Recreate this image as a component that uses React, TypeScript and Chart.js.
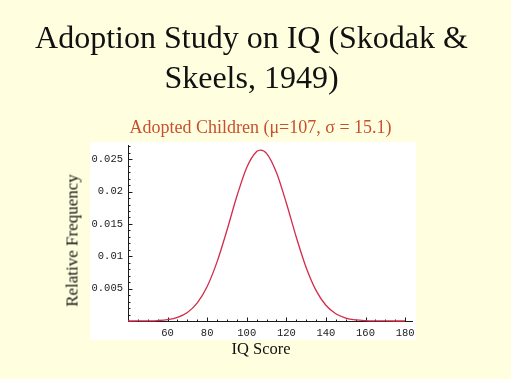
import { useEffect, useRef } from "react";
import { Chart, registerables } from "chart.js";

Chart.register(...registerables);

// IQ score (x) and relative frequency (y)
const iqScores = [40, 45, 50, 55, 60, 65, 70, 75, 80, 85, 90, 95, 100, 105, 107, 110, 115, 120, 125, 130, 135, 140, 145, 150, 155, 160, 165, 170, 175, 180];
const relFreq = [0.000001, 0.000006, 0.000021, 0.00007, 0.000208, 0.000552, 0.00131, 0.0028, 0.00534, 0.00914, 0.01402, 0.01927, 0.02373, 0.02619, 0.02642, 0.02591, 0.02296, 0.01824, 0.01298, 0.00828, 0.00474, 0.00243, 0.00111, 0.000458, 0.000169, 0.000056, 0.000017, 0.000005, 0.000001, 0.0000003];

const xTickLabels = [60, 80, 100, 120, 140, 160, 180];
const yTickLabels = [0.005, 0.01, 0.015, 0.02, 0.025];

const titleLines = ["Adoption Study on IQ (Skodak &", "Skeels, 1949)"];
const subtitleText = "Adopted Children (\u03bc=107, \u03c3 = 15.1)";
const xAxisTitle = "IQ Score";
const yAxisTitle = "Relative Frequency";

const X_MIN = 40;
const X_MAX = 184;
const Y_MAX = 0.0272;

const framePlugin = {
  id: "mmaFrame",
  beforeDraw(chart: any) {
    const { ctx, chartArea: a } = chart;
    ctx.save();
    ctx.fillStyle = "#ffffff";
    ctx.fillRect(a.left - 38, a.top - 3, a.right + 3 - (a.left - 38), a.bottom + 19 - (a.top - 3));
    ctx.restore();
  },
  beforeDatasetsDraw(chart: any) {
    const { ctx, chartArea: a, scales } = chart;
    const xs = scales.x;
    const ys = scales.y;
    const y0 = Math.round(ys.getPixelForValue(0)) + 0.5;
    const x0 = Math.round(xs.getPixelForValue(X_MIN)) + 0.5;
    ctx.save();
    ctx.strokeStyle = "#1a1a1a";
    ctx.lineWidth = 1;
    ctx.beginPath();
    ctx.moveTo(a.left, y0);
    ctx.lineTo(a.right, y0);
    ctx.moveTo(x0, y0);
    ctx.lineTo(x0, a.top);
    // x ticks
    for (let v = 45; v <= 180; v += 5) {
      const px = Math.round(xs.getPixelForValue(v)) + 0.5;
      const len = xTickLabels.includes(v) ? 4 : 2;
      ctx.moveTo(px, y0);
      ctx.lineTo(px, y0 - len);
    }
    // y ticks
    for (let i = 1; i <= 27; i++) {
      const v = i / 1000;
      const py = Math.round(ys.getPixelForValue(v)) + 0.5;
      const len = i % 5 === 0 ? 4 : 2;
      ctx.moveTo(x0, py);
      ctx.lineTo(x0 + len, py);
    }
    ctx.stroke();
    ctx.restore();
  },
};

export default function App() {
  const canvasRef = useRef<HTMLCanvasElement | null>(null);

  useEffect(() => {
    document.body.style.margin = "0";
    const canvas = canvasRef.current;
    if (!canvas) return;
    const chart = new Chart(canvas, {
      type: "line",
      data: {
        datasets: [
          {
            data: iqScores.map((x, i) => ({ x, y: relFreq[i] })),
            borderColor: "#d42a4a",
            borderWidth: 1.3,
            pointRadius: 0,
            cubicInterpolationMode: "monotone",
            fill: false,
            clip: 6,
          } as any,
        ],
      },
      options: {
        animation: false,
        responsive: false,
        devicePixelRatio: 1,
        events: [],
        layout: { padding: { left: 0, right: 98, top: 145, bottom: 38 } },
        plugins: { legend: { display: false }, tooltip: { enabled: false }, title: { display: false } },
        scales: {
          x: {
            type: "linear",
            min: X_MIN,
            max: X_MAX,
            grid: { display: false, drawTicks: false },
            border: { display: false },
            ticks: {
              font: { family: "Liberation Mono", size: 10.5 },
              color: "#1a1a1a",
              padding: 6,
              maxRotation: 0,
              autoSkip: false,
              callback: (v: any) => String(v),
            },
            afterBuildTicks: (s: any) => {
              s.ticks = xTickLabels.map((v) => ({ value: v }));
            },
            afterFit: (s: any) => {
              s.height = 20;
            },
          },
          y: {
            type: "linear",
            min: 0,
            max: Y_MAX,
            grid: { display: false, drawTicks: false },
            border: { display: false },
            ticks: {
              font: { family: "Liberation Mono", size: 10.5 },
              color: "#1a1a1a",
              padding: 5,
              autoSkip: false,
              callback: (v: any) => String(v),
            },
            afterBuildTicks: (s: any) => {
              s.ticks = yTickLabels.map((v) => ({ value: v }));
            },
            afterFit: (s: any) => {
              s.width = 128;
            },
          },
        },
      },
      plugins: [framePlugin],
    });
    return () => chart.destroy();
  }, []);

  const serif = '"Liberation Serif", "Times New Roman", serif';

  return (
    <div style={{ position: "absolute", left: 0, top: 0, width: 511, height: 379, background: "#ffffe0", overflow: "hidden" }}>
      <canvas ref={canvasRef} width={511} height={379} style={{ position: "absolute", left: 0, top: 0 }} />
      <div
        style={{
          position: "absolute",
          left: -4,
          top: 17,
          width: 511,
          textAlign: "center",
          fontFamily: serif,
          fontSize: 32,
          lineHeight: "40px",
          color: "#111",
          whiteSpace: "nowrap",
        }}
      >
        {titleLines.map((t) => (
          <div key={t}>{t}</div>
        ))}
      </div>
      <div
        style={{
          position: "absolute",
          left: 5,
          top: 118,
          width: 511,
          textAlign: "center",
          fontFamily: serif,
          fontSize: 18,
          lineHeight: "18px",
          color: "#c8502f",
          whiteSpace: "nowrap",
        }}
      >
        {subtitleText}
      </div>
      <div
        style={{
          position: "absolute",
          left: 161,
          top: 341,
          width: 200,
          textAlign: "center",
          fontFamily: serif,
          fontSize: 16.5,
          lineHeight: "16.5px",
          color: "#111",
          whiteSpace: "nowrap",
        }}
      >
        {xAxisTitle}
      </div>
      <div
        style={{
          position: "absolute",
          left: 72 - 100,
          top: 240 - 8.5,
          width: 200,
          height: 17,
          textAlign: "center",
          fontFamily: serif,
          fontSize: 17,
          lineHeight: "17px",
          color: "#111",
          whiteSpace: "nowrap",
          transform: "rotate(-90deg)",
        }}
      >
        {yAxisTitle}
      </div>
    </div>
  );
}
